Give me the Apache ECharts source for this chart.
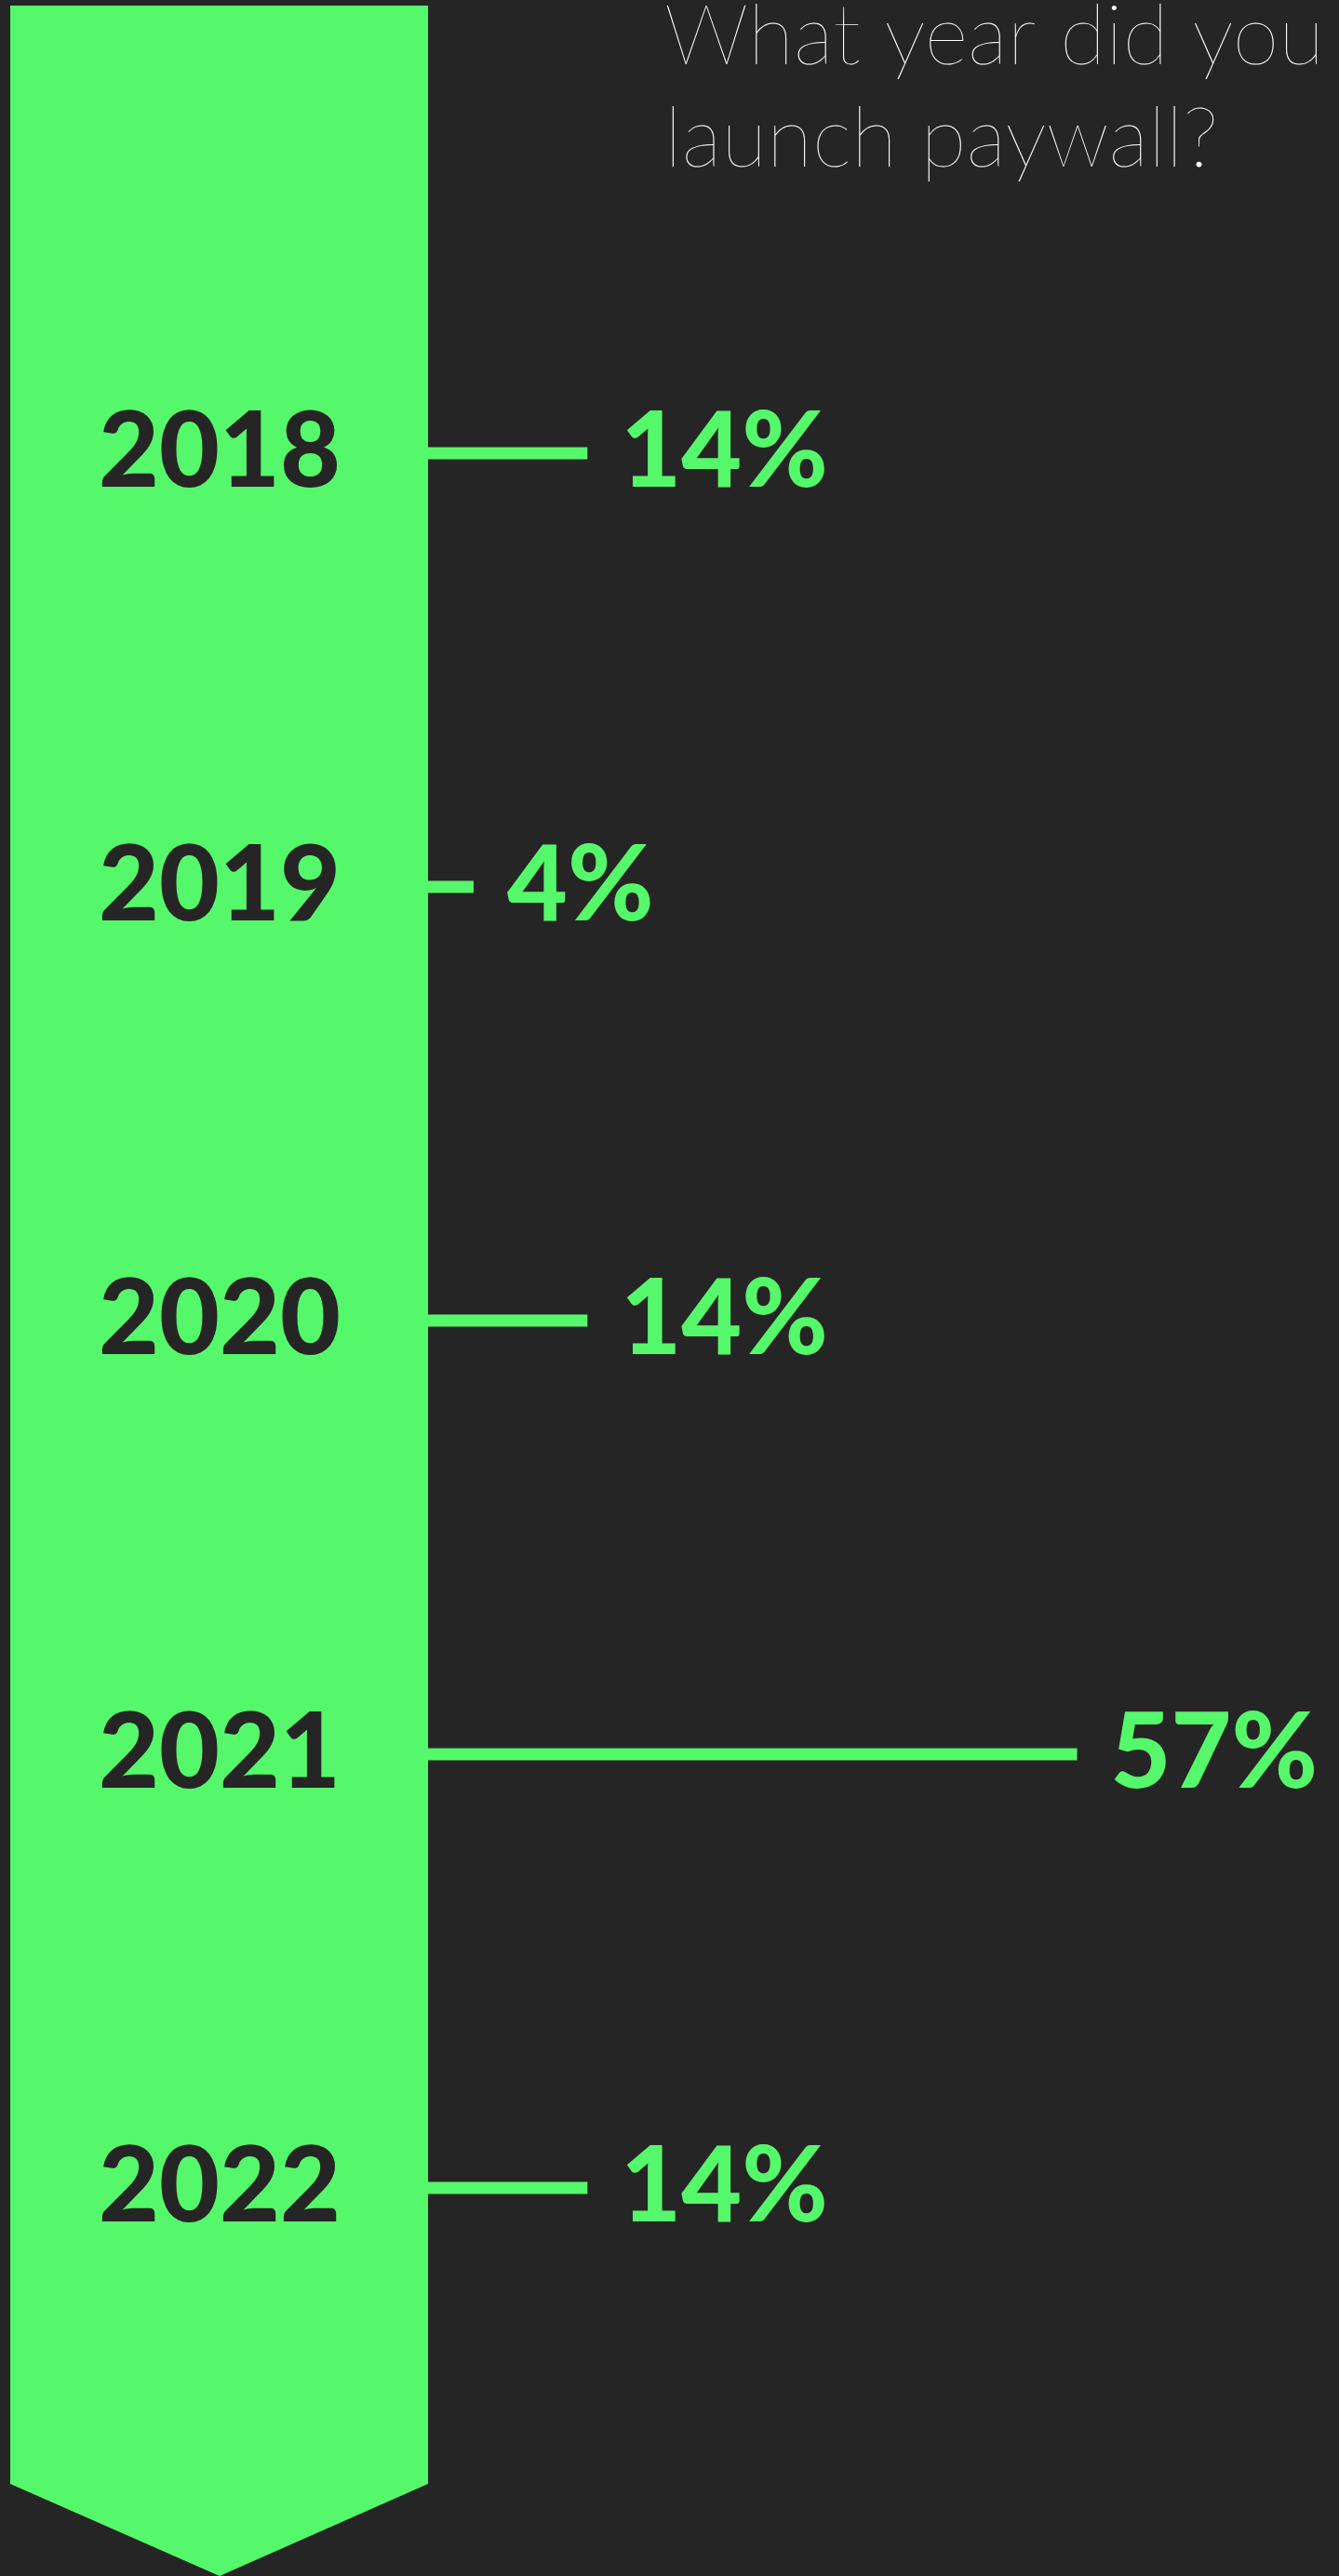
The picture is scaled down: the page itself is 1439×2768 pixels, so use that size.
<!DOCTYPE html>
<html>
<head>
<meta charset="utf-8">
<script src="https://cdn.jsdelivr.net/npm/echarts@6/dist/echarts.min.js"></script>
<style>
    html, body { margin: 0; padding: 0; background: #252525; }
    #paywallChart { width: 1439px; height: 2768px; }
</style>
</head>
<body>
<div id="paywallChart"></div>
<script>
// launch years
const years = ['2018', '2019', '2020', '2021', '2022']
// share of answers, %
const shares = [14, 4, 14, 57, 14]
const titleLines = ['What year did you', 'launch paywall?']

const green = '#55F86B'
const dark = '#252525'

let myChart = echarts.init(document.getElementById('paywallChart'))

let option = {
    backgroundColor: dark,
    title: {
        text: titleLines.join('\n'),
        left: 709,
        top: -20,
        textStyle: {
            color: '#ffffff',
            fontFamily: 'Lato',
            fontWeight: 100,
            fontSize: 90,
            lineHeight: 110
        }
    },
    // the big arrow behind the year labels
    graphic: [
        {
            type: 'polygon',
            z: -10,
            shape: {
                points: [[11, 6], [460, 6], [460, 2669], [236, 2768], [11, 2669]]
            },
            style: { fill: green }
        }
    ],
    grid: {
        left: 460,
        top: 254,
        width: 980,
        height: 2330
    },
    xAxis: {
        type: 'value',
        min: 0,
        max: 80,
        show: false
    },
    yAxis: {
        type: 'category',
        inverse: true,
        data: years,
        axisLine: { show: false },
        axisTick: { show: false },
        axisLabel: {
            align: 'center',
            margin: 224,
            color: dark,
            fontFamily: 'Lato',
            fontWeight: 900,
            fontSize: 112
        }
    },
    series: [
        {
            type: 'bar',
            data: shares,
            barWidth: 13,
            itemStyle: { color: green },
            label: {
                show: true,
                position: 'right',
                distance: 36,
                formatter: '{c}%',
                color: green,
                fontFamily: 'Lato',
                fontWeight: 900,
                fontSize: 112
            }
        }
    ]
}

myChart.setOption(option)
</script>
</body>
</html>
